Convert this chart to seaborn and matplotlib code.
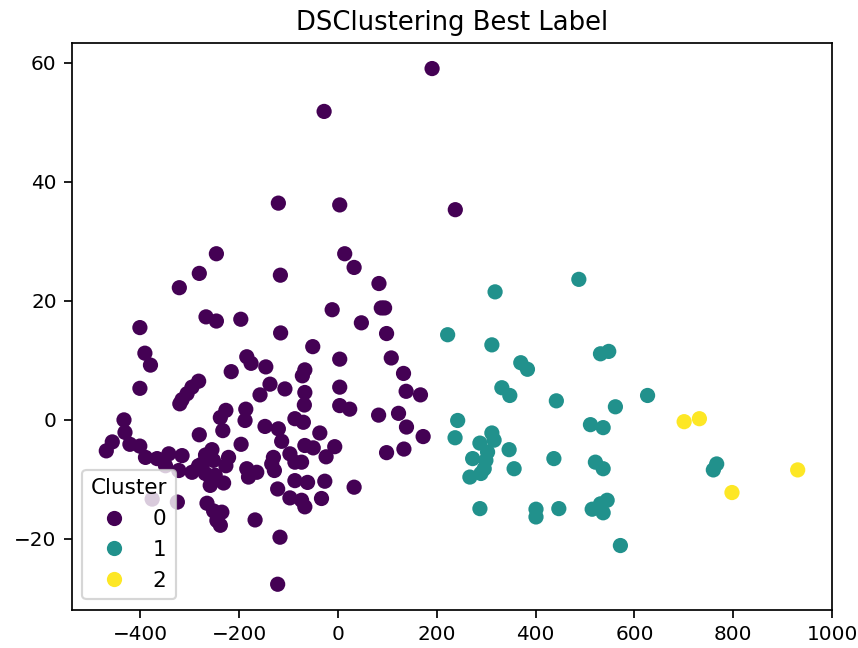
import matplotlib
matplotlib.use("Agg")
import matplotlib.pyplot as plt
import seaborn as sns
import pandas as pd

# Cluster 0 (PCA component 1, component 2)
c0_x = [190.5, -28, -120.6, 3.6, 237.5, -246, 13.7, 32.7, -280.6, -116.5,
        -321, 83, -11.7, 87.7, 94.4, -267, -246, -196.6, -400.8, 47.4,
        -116, 98.4, -51, -390.7, -379.4, -184.5, -175.8, -216, -146, 3.6,
        107.9, -67, -72, 132.7, -400.8, -281.9, -295.4, -305.4, -315.5, -320,
        -137.5, -157.7, -107.3, -67, -68, 3.6, 138, 167, 3.6, 23.8,
        82.3, 122.6, -226.8, -238, -186.5, -188, -87.1, -70, -433, -431,
        -456.7, -468.8, -421, -401, -280.6, -233, -147.6, -120.6, -36.7, 138.7,
        172.4, -113.9, -196, -255, -268, -252, -275, -342.3, -315.5, -389.5,
        -366, -349, -322, -295.4, -268.5, -282, -226.8, -97.2, -87.1, -67,
        -50, -6.5, -24, 98.4, 133.5, -221.4, -130.6, -134, -128.6, -184.5,
        -181, -164.3, -258.5, -258.5, -248.4, -231.4, -87.1, -61.5, -26.6, 32.7,
        -122, -97.2, -73.6, -67, -33.3, -265, -251.6, -234.9, -245, -238,
        -167.7, -117.3, -122, -325, -376, -73.6]
c0_y = [59.0, 51.8, 36.4, 36.1, 35.3, 27.9, 27.9, 25.6, 24.6, 24.3,
        22.2, 22.9, 18.5, 18.8, 18.8, 17.3, 16.6, 16.9, 15.5, 16.3,
        14.6, 14.5, 12.3, 11.2, 9.2, 10.6, 9.5, 8.1, 8.9, 10.2,
        10.4, 8.4, 7.4, 7.8, 5.3, 6.5, 5.5, 4.4, 3.4, 2.7,
        6.0, 4.2, 5.2, 4.6, 2.5, 5.5, 4.8, 4.2, 2.4, 1.8,
        0.8, 1.1, 1.6, 0.4, 1.8, -0.1, 0.2, -0.4, 0.0, -2.1,
        -3.7, -5.2, -4.1, -4.4, -2.5, -1.8, -1.1, -1.5, -2.2, -1.2,
        -2.8, -3.6, -4.1, -5.0, -5.9, -6.8, -7.4, -5.7, -6.0, -6.3,
        -6.5, -7.7, -8.5, -8.8, -9.0, -7.7, -7.7, -5.7, -7.1, -4.3,
        -4.7, -4.5, -6.2, -5.5, -4.9, -6.3, -6.3, -7.4, -8.5, -8.2,
        -9.6, -8.8, -9.6, -11.0, -9.3, -10.6, -10.2, -10.5, -10.3, -11.3,
        -11.6, -13.1, -13.5, -14.6, -13.2, -14.0, -15.3, -15.5, -16.9, -17.7,
        -16.8, -19.7, -27.6, -13.8, -13.3, -7.1]

# Cluster 1
c1_x = [318, 487.5, 222, 311.5, 370, 383.5, 331.7, 347.8, 442, 242.3,
        237, 311.5, 316, 287.3, 346.4, 272.6, 302.8, 299.4, 296, 289.3,
        267, 356.5, 437, 287.3, 400.8, 400.8, 447, 531.3, 548, 626.6,
        561.5, 511, 536.7, 521, 536.7, 766.5, 759.7, 544.8, 531.3, 514.5,
        536.7, 571.6]
c1_y = [21.5, 23.6, 14.3, 12.6, 9.6, 8.5, 5.4, 4.1, 3.2, -0.1,
        -3.0, -2.2, -3.4, -3.9, -5.0, -6.5, -5.4, -6.8, -8.2, -9.0,
        -9.6, -8.2, -6.5, -14.9, -15.0, -16.3, -14.9, 11.1, 11.5, 4.1,
        2.2, -0.8, -1.3, -7.1, -8.2, -7.4, -8.4, -13.5, -14.1, -15.0,
        -15.6, -21.1]

# Cluster 2
c2_x = [700.6, 731.5, 930.4, 797.4]
c2_y = [-0.3, 0.2, -8.4, -12.2]

cluster_names = ["0", "1", "2"]
cluster_colors = ["#440154", "#21918c", "#fde725"]

df = pd.DataFrame({
    "x": c0_x + c1_x + c2_x,
    "y": c0_y + c1_y + c2_y,
    "Cluster": ["0"] * len(c0_x) + ["1"] * len(c1_x) + ["2"] * len(c2_x),
})

DPI = 155
fig, ax = plt.subplots(figsize=(858 / DPI, 648 / DPI), dpi=DPI)
fig.subplots_adjust(left=0.0836, right=0.9700, top=0.934, bottom=0.0586)

sns.scatterplot(data=df, x="x", y="y", hue="Cluster", hue_order=cluster_names,
                palette=cluster_colors, s=50, linewidth=0, ax=ax)

ax.set_title("DSClustering Best Label")
ax.set_xlabel("")
ax.set_ylabel("")
ax.tick_params(labelsize=9.3)
ax.legend(title="Cluster", loc="lower left")

fig.savefig("out.png", dpi=DPI)
